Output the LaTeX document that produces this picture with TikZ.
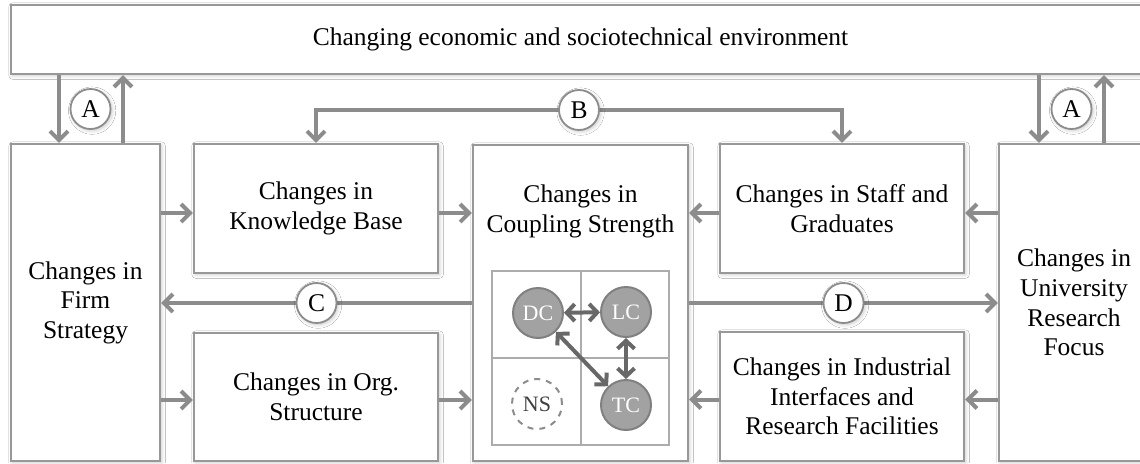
\documentclass[tikz,border=0pt]{standalone}
\usepackage{fontspec}
\setmainfont{Liberation Serif}
\usetikzlibrary{arrows.meta,shadows.blur,calc}
\definecolor{boxgray}{RGB}{152,152,152}
\definecolor{arrgray}{RGB}{140,140,140}
\definecolor{gridgray}{RGB}{172,172,172}
\definecolor{dotfill}{RGB}{162,162,162}
\definecolor{dotline}{RGB}{128,128,128}
\definecolor{linkgray}{RGB}{104,104,104}
\tikzset{
  soft/.style={blur shadow={shadow xshift=0.8pt,shadow yshift=-0.8pt,shadow blur steps=4,shadow opacity=22}},
  box/.style={draw=boxgray,line width=1.1pt,fill=white,align=center,inner sep=0pt,soft,
    font=\fontsize{12.75}{14.8}\selectfont},
  tag/.style={circle,draw=arrgray,line width=0.9pt,fill=white,minimum size=20pt,inner sep=0pt,soft,
    font=\fontsize{12.75}{14.8}\selectfont},
  flow/.style={draw=arrgray,line width=2pt,-{Straight Barb[length=4.5pt,width=9pt]}},
  both/.style={flow,{Straight Barb[length=4.5pt,width=9pt]}-{Straight Barb[length=4.5pt,width=9pt]}},
  dot/.style={circle,draw=dotline,line width=1pt,fill=dotfill,minimum size=25pt,inner sep=0pt,
    text=white,font=\fontsize{11}{13}\selectfont},
  link/.style={draw=linkgray,line width=2pt,{Straight Barb[length=4pt,width=8.5pt]}-{Straight Barb[length=4pt,width=8.5pt]}}
}
\begin{document}
\begin{tikzpicture}[x=0.5pt,y=-0.5pt]
    \path[use as bounding box,clip] (0,0) rectangle (1140,463);
    \fill[white] (0,0) rectangle (1140,463);
    % outer boxes
    \node[box,minimum width=569.5pt,minimum height=34.5pt] (env) at (580.5,39.5)
        {Changing economic and sociotechnical environment};
    \node[box,minimum width=74.5pt,minimum height=158.5pt] (firm) at (85.5,302.5)
        {Changes in\\Firm\\Strategy};
    \node[box,minimum width=75pt,minimum height=158.5pt] (uni) at (1074,302.5)
        {Changes in\\University\\Research\\Focus};
    \node[box,minimum width=122pt,minimum height=64.5pt] (know) at (316,208.5)
        {Changes in\\Knowledge Base};
    \node[box,minimum width=122pt,minimum height=64pt] (org) at (316,397)
        {Changes in Org.\\Structure};
    \node[box,minimum width=122pt,minimum height=64.5pt] (staff) at (842,208.5)
        {Changes in Staff and\\Graduates};
    \node[box,minimum width=122pt,minimum height=64.5pt] (ind) at (842,396.5)
        {Changes in Industrial\\Interfaces and\\Research Facilities};
    \node[box,minimum width=107.5pt,minimum height=158pt] (coup) at (580.5,303) {};
    \node[align=center,inner sep=0pt,font=\fontsize{12.75}{14.8}\selectfont] (couptitle) at (580.5,211.5)
        {Changes in\\Coupling Strength};
    % inner grid
    \draw[gridgray,line width=1pt] (492,271) rectangle (669,445);
    \draw[gridgray,line width=1pt] (581,271) -- (581,445) (492,358) -- (669,358);
    \node[dot] (DC) at (538,313) {DC};
    \node[dot] (LC) at (626,312) {LC};
    \node[dot] (TC) at (626,405) {TC};
    \node[dot,fill=white,draw=arrgray,dashed,text=black!75] (NS) at (537,404) {NS};
    \draw[link] (DC) -- (LC);
    \draw[link] (LC) -- (TC);
    \draw[link] (DC) -- (TC);
    % A loops
    \draw[flow] ([xshift=-13.25pt]firm.north |- env.south) -- ([xshift=-13.25pt]firm.north);
    \draw[flow] ([xshift=18.75pt]firm.north) -- ([xshift=18.75pt]firm.north |- env.south);
    \node[tag] (aleft) at (90.5,109) {A};
    \draw[flow] ([xshift=-17.5pt]uni.north |- env.south) -- ([xshift=-17.5pt]uni.north);
    \draw[flow] ([xshift=15pt]uni.north) -- ([xshift=15pt]uni.north |- env.south);
    \node[tag] (aright) at (1071.5,109) {A};
    % B link
    \coordinate (bpt) at (579,110);
    \draw[both] (know.north) |- (bpt) -| (staff.north);
    \node[tag] (B) at (bpt) {B};
    % C and D
    \draw[flow] (coup.west) -- node[tag] (C) {C} (coup.west -| firm.east);
    \draw[flow] (coup.east) -- node[tag] (D) {D} (coup.east -| uni.west);
    % side flows
    \draw[flow] ([yshift=-2.25pt]know.west -| firm.east) -- ([yshift=-2.25pt]know.west);
    \draw[flow] ([yshift=-2.25pt]know.east) -- ([yshift=-2.25pt]know.east -| coup.west);
    \draw[flow] ([yshift=-2.25pt]staff.west) -- ([yshift=-2.25pt]staff.west -| coup.east);
    \draw[flow] ([yshift=-2.25pt]staff.east -| uni.west) -- ([yshift=-2.25pt]staff.east);
    \draw[flow] ([yshift=-1.5pt]org.west -| firm.east) -- ([yshift=-1.5pt]org.west);
    \draw[flow] ([yshift=-1.5pt]org.east) -- ([yshift=-1.5pt]org.east -| coup.west);
    \draw[flow] ([yshift=-1.5pt]ind.west) -- ([yshift=-1.5pt]ind.west -| coup.east);
    \draw[flow] ([yshift=-1.5pt]ind.east -| uni.west) -- ([yshift=-1.5pt]ind.east);
\end{tikzpicture}
\end{document}
